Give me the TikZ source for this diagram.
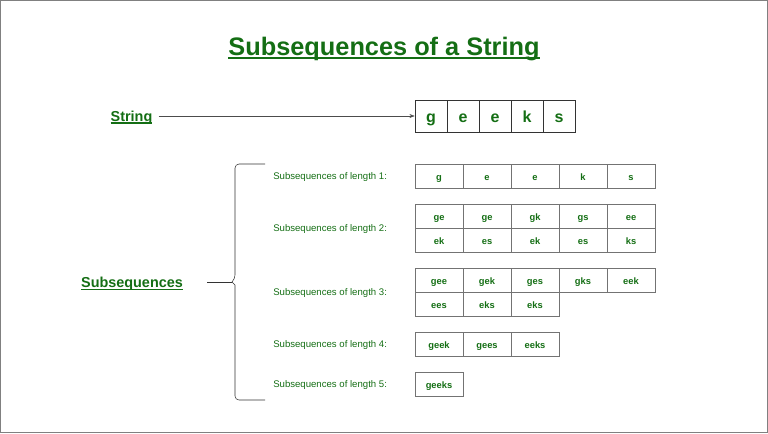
\documentclass[tikz,border=0pt]{standalone}
\usepackage{fontspec}
\setmainfont{Liberation Sans}
\usetikzlibrary{arrows.meta}
\definecolor{gfgreen}{RGB}{20,110,20}
\definecolor{cellgray}{RGB}{115,115,115}
\newcommand{\ulbox}[1]{\setbox0\hbox{#1}\rlap{\rule[-0.13em]{\wd0}{0.075em}}\box0}

\begin{document}
\begin{tikzpicture}
	[x=0.75pt, y=-0.75pt,
	title/.style ={text=gfgreen, font=\fontsize{19}{23}\selectfont\bfseries, inner sep=0pt},
	head/.style ={text=gfgreen, font=\fontsize{10.8}{13}\selectfont\bfseries, inner sep=0pt},
	lbl/.style ={text=gfgreen, font=\fontsize{7.2}{9}\selectfont, anchor=west, inner sep=0pt},
	cell/.style ={rectangle, draw=cellgray, text=gfgreen, font=\fontsize{7}{9}\selectfont\bfseries, minimum width=36pt, minimum height=18pt, inner sep=0pt, text height=7.5pt, text depth=1.5pt},
	chr/.style ={rectangle, draw=black!80, text=gfgreen, font=\fontsize{12}{14}\selectfont\bfseries, minimum width=24pt, minimum height=24pt, inner sep=0pt, text height=12pt, text depth=2pt},
	line/.style ={draw=black!70, thin, -{Stealth[length=4pt,width=3pt]}},
	brace/.style ={draw=black!80, thin}]
	\useasboundingbox (0, 0) rectangle (768, 433);
	\draw[gray, line width=0.75pt] (0.5, 0.5) rectangle (767.5, 432.5);
	\draw (384, 49) node[title] (name) {\ulbox{Subsequences of a String}};
	\draw (131.5, 118) node[head] (str) {\ulbox{String}};
	\draw (132, 284) node[head] (subs) {\ulbox{Subsequences}};
	% the string itself
	\foreach \t [count=\i from 0] in {g,e,e,k,s}
		\draw (431+32*\i, 116) node[chr] (s\i) {\t};
	\draw[line, shorten <=4.5pt] (str.east |- s0.west) -- (s0.west);
	% brace
	\coordinate (brtop) at (265, 164);
	\coordinate (brmid) at (232, 282);
	\coordinate (brbot) at (265, 400);
	\draw[brace, rounded corners=3pt] (brtop) -- (235, 164) -- (235, 279) [sharp corners] -- (brmid) -- (235, 285) [rounded corners=3pt] -- (235, 400) -- (brbot);
	\draw[brace, shorten <=18pt] (subs.east |- brmid) -- (brmid);
	% labels
	\draw (273, 177.5) node[lbl] (len1) {Subsequences of length 1:};
	\draw (273, 229.5) node[lbl] (len2) {Subsequences of length 2:};
	\draw (273, 293.5) node[lbl] (len3) {Subsequences of length 3:};
	\draw (273, 345.5) node[lbl] (len4) {Subsequences of length 4:};
	\draw (273, 385.5) node[lbl] (len5) {Subsequences of length 5:};
	% cells
	\foreach \t [count=\i from 0] in {g,e,e,k,s}
		\draw (439+48*\i, 176) node[cell] (a\i) {\t};
	\foreach \t [count=\i from 0] in {ge,ge,gk,gs,ee}
		\draw (439+48*\i, 216) node[cell] (b\i) {\t};
	\foreach \t [count=\i from 0] in {ek,es,ek,es,ks}
		\draw (439+48*\i, 240) node[cell] (bb\i) {\t};
	\foreach \t [count=\i from 0] in {gee,gek,ges,gks,eek}
		\draw (439+48*\i, 280) node[cell] (c\i) {\t};
	\foreach \t [count=\i from 0] in {ees,eks,eks}
		\draw (439+48*\i, 304) node[cell] (cc\i) {\t};
	\foreach \t [count=\i from 0] in {geek,gees,eeks}
		\draw (439+48*\i, 344) node[cell] (d\i) {\t};
	\draw (439, 384) node[cell] (e0) {geeks};
\end{tikzpicture}
\end{document}
